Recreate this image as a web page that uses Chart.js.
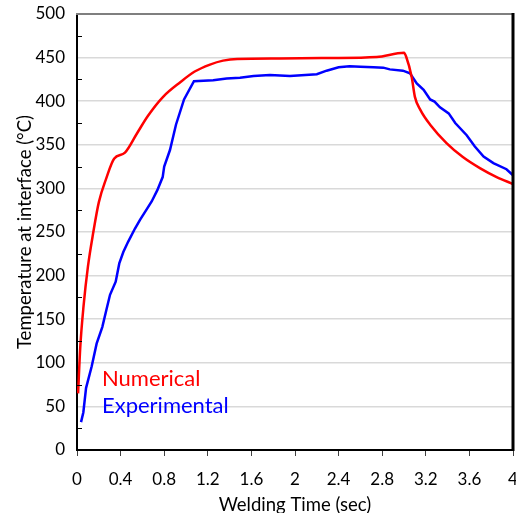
<!DOCTYPE html>
<html><head><meta charset="utf-8">
<script src="https://cdn.jsdelivr.net/npm/chart.js@4"></script>
<style>html,body{margin:0;padding:0;background:#fff}#w{width:516px;height:513px}</style>
</head><body><div id="w"><canvas id="c"></canvas></div>
<script>
const seriesNames = ['Numerical', 'Experimental'];
const numX = [0.01,0.03,0.06,0.10,0.15,0.20,0.27,0.34,0.44,0.55,0.65,0.79,0.95,1.08,1.22,1.34,1.47,1.86,2.3,2.75,3.0,3.02,3.07,3.10,3.15,3.24,3.39,3.54,3.70,3.85,4.0];
const numY = [65,118,165,210,250,284,312,334,341,363,383,405,422,434,442,446.5,448.5,449,449.5,450.7,455.5,451,428,405,390,373,352,336,323,313,305];
const expX = [0.037,0.058,0.083,0.135,0.18,0.232,0.272,0.303,0.355,0.388,0.425,0.47,0.532,0.578,0.639,0.685,0.737,0.786,0.80,0.853,0.908,0.982,1.073,1.25,1.373,1.495,1.62,1.77,1.954,2.2,2.29,2.40,2.50,2.60,2.72,2.81,2.87,2.99,3.055,3.117,3.18,3.24,3.28,3.33,3.41,3.47,3.575,3.65,3.73,3.82,3.94,4.0];
const expY = [32,43,71,96,122,141,162,178,193,214,227,239,254,264,276,285,298,313,325,344,373,402,423,424,426,427,429,430,429,431,435,439,440,439.5,439,438.5,436.5,435,432,420.5,413,402,399.5,393,386,375,361,348,336.5,329,322,315];
const xTicks = [0,0.4,0.8,1.2,1.6,2,2.4,2.8,3.2,3.6,4];
const yTicks = [0,50,100,150,200,250,300,350,400,450,500];
const yMinorTicks = [25,75,125,175,225,275,325,375,425,475];
const xTitle = 'Welding Time (sec)';
const yTitle = 'Temperature at interface (°C)';

Chart.defaults.font.family = 'Lato';
Chart.defaults.color = '#000';

const frame = {
  id: 'frame',
  afterDraw(chart) {
    const {ctx, chartArea: a, scales: {y}} = chart;
    ctx.save();
    ctx.strokeStyle = '#000'; ctx.lineWidth = 1;
    yMinorTicks.forEach(v => {
      const py = Math.round(y.getPixelForValue(v)) + 0.5;
      ctx.beginPath(); ctx.moveTo(a.left, py); ctx.lineTo(a.left + 5, py); ctx.stroke();
    });
    ctx.strokeStyle = '#7f7f7f'; ctx.lineWidth = 2;
    ctx.beginPath(); ctx.moveTo(a.left - 1, a.top); ctx.lineTo(a.right, a.top); ctx.stroke();
    ctx.strokeStyle = '#000'; ctx.lineWidth = 3;
    ctx.beginPath(); ctx.moveTo(a.right, a.top - 1); ctx.lineTo(a.right, a.bottom + 1); ctx.stroke();
    ctx.font = '22px Lato';
    ctx.textBaseline = 'alphabetic';
    ctx.textAlign = 'left';
    ctx.fillStyle = '#ff0000'; ctx.fillText(seriesNames[0], a.left + 25, a.top + 372);
    ctx.fillStyle = '#0000ff'; ctx.fillText(seriesNames[1], a.left + 25, a.top + 399);
    ctx.restore();
  }
};

new Chart(document.getElementById('c'), {
  type: 'line',
  data: {
    datasets: [
      {label: seriesNames[0], data: numX.map((x, i) => ({x, y: numY[i]})), borderColor: '#ff0000', borderWidth: 2.5, pointRadius: 0, cubicInterpolationMode: 'monotone', fill: false},
      {label: seriesNames[1], data: expX.map((x, i) => ({x, y: expY[i]})), borderColor: '#0000ff', borderWidth: 2.5, pointRadius: 0, tension: 0, fill: false}
    ]
  },
  options: {
    responsive: true, maintainAspectRatio: false, animation: false,
    layout: {padding: {top: 14, right: 3, left: 0, bottom: 0}},
    plugins: {legend: {display: false}, tooltip: {enabled: false}},
    scales: {
      x: {
        type: 'linear', min: 0, max: 4,
        afterBuildTicks: s => { s.ticks = xTicks.map(v => ({value: v})); },
        afterFit: s => { s.height = 63; s.paddingLeft = 0; s.paddingRight = 0; },
        ticks: {font: {size: 17}, padding: 13, maxRotation: 0, autoSkip: false, callback: v => String(Math.round(v * 10) / 10)},
        grid: {drawOnChartArea: false, drawTicks: true, tickLength: 6, color: '#404040'},
        border: {color: '#000', width: 2},
        title: {display: true, text: xTitle, font: {size: 18.5}, padding: {top: 0, bottom: -3}}
      },
      y: {
        min: 0, max: 500,
        afterBuildTicks: s => { s.ticks = yTicks.map(v => ({value: v})); },
        afterFit: s => { s.width = 77; s.paddingTop = 0; s.paddingBottom = 0; },
        ticks: {font: {size: 17}, padding: 12},
        grid: {color: '#d9d9d9', lineWidth: 1.5, drawTicks: false},
        border: {color: '#000', width: 2},
        title: {display: true, text: yTitle, font: {size: 18.5}, padding: {top: 14, bottom: 0}}
      }
    }
  },
  plugins: [frame]
});
</script>
</body></html>
